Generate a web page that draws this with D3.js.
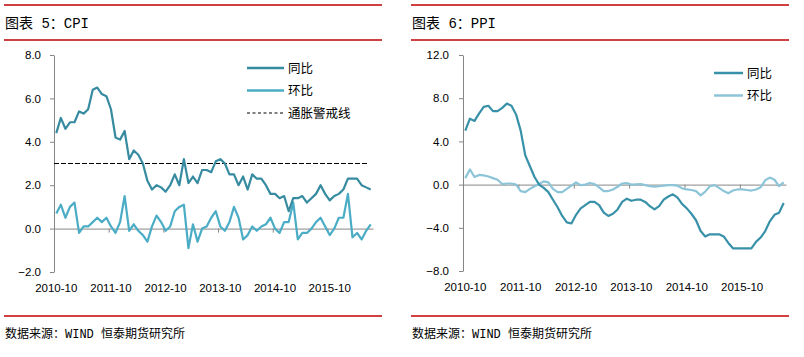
<!DOCTYPE html>
<html><head><meta charset="utf-8">
<script src="https://cdn.jsdelivr.net/npm/d3@7"></script>
<style>
body{margin:0;background:#fff;}
svg{display:block;}
</style></head><body>
<svg id="c" width="804" height="357"></svg>
<script>
// ---- data ----
const months = d3.timeMonth.range(new Date(2010,9,1), new Date(2016,7,1)).map(d3.timeFormat("%Y-%m"));
const tickLabels = ["2010-10","2011-10","2012-10","2013-10","2014-10","2015-10"];
const cpiYoY = [4.4,5.1,4.6,4.9,4.9,5.4,5.3,5.5,6.4,6.5,6.2,6.1,5.5,4.2,4.1,4.5,3.2,3.6,3.4,3.0,2.2,1.8,2.0,1.9,1.7,2.0,2.5,2.0,3.2,2.1,2.4,2.1,2.7,2.7,2.6,3.1,3.2,3.0,2.5,2.5,2.0,2.4,1.8,2.5,2.3,2.3,2.0,1.6,1.6,1.4,1.5,0.8,1.4,1.4,1.5,1.2,1.4,1.6,2.0,1.6,1.3,1.5,1.6,1.8,2.3,2.3,2.3,2.0,1.9,1.8];
const cpiMoM = [0.7,1.1,0.5,1.0,1.2,-0.2,0.1,0.1,0.3,0.5,0.3,0.5,0.1,-0.2,0.3,1.5,-0.1,0.2,-0.1,-0.3,-0.6,0.1,0.6,0.3,-0.1,0.1,0.8,1.0,1.1,-0.9,0.2,-0.6,0.0,0.1,0.5,0.8,0.1,-0.1,0.3,1.0,0.5,-0.5,-0.3,0.1,-0.1,0.1,0.2,0.5,0.0,-0.2,0.3,0.3,1.2,-0.5,-0.2,-0.2,0.0,0.3,0.5,0.1,-0.3,0.0,0.5,0.5,1.6,-0.4,-0.2,-0.5,-0.1,0.2];
const cpiAlert = 3.0;
const ppiYoY = [5.0,6.1,5.9,6.6,7.2,7.3,6.8,6.8,7.1,7.5,7.3,6.5,5.0,2.7,1.7,0.7,0.0,-0.3,-0.7,-1.4,-2.1,-2.9,-3.5,-3.6,-2.8,-2.2,-1.9,-1.6,-1.6,-1.9,-2.6,-2.9,-2.7,-2.3,-1.6,-1.3,-1.5,-1.4,-1.4,-1.6,-2.0,-2.3,-2.0,-1.4,-1.1,-0.9,-1.2,-1.8,-2.2,-2.7,-3.3,-4.3,-4.8,-4.6,-4.6,-4.6,-4.8,-5.4,-5.9,-5.9,-5.9,-5.9,-5.9,-5.3,-4.9,-4.3,-3.4,-2.8,-2.6,-1.7];
const ppiMoM = [0.6,1.4,0.7,0.9,0.85,0.75,0.6,0.45,0.05,0.1,0.1,0.0,-0.6,-0.7,-0.4,-0.15,0.05,0.3,0.2,-0.4,-0.7,-0.7,-0.4,-0.1,0.2,-0.05,0.0,0.15,0.05,-0.25,-0.6,-0.6,-0.45,-0.2,0.1,0.15,0.0,0.03,0.05,-0.05,-0.15,-0.2,-0.15,-0.1,-0.05,-0.05,-0.1,-0.35,-0.45,-0.5,-0.6,-1.0,-0.65,-0.15,-0.05,-0.3,-0.6,-0.8,-0.55,-0.45,-0.45,-0.5,-0.55,-0.45,-0.25,0.4,0.65,0.45,-0.15,0.2];
const cpiTicks = [-2,0,2,4,6,8];
const ppiTicks = [-8,-4,0,4,8,12];

const svg = d3.select("#c");
const RED = "#C00000";
const CJK = "'Liberation Mono','Noto Sans CJK SC',sans-serif";
const NUM = "'Liberation Sans',Arial,sans-serif";

function panel(o){
  const g = svg.append("g");
  // frame lines
  [5,40,316].forEach(y=>g.append("line").attr("x1",o.fx0).attr("x2",o.fx1).attr("y1",y).attr("y2",y)
     .attr("stroke",RED).attr("stroke-width",1.3));
  g.append("text").attr("x",o.fx0+1).attr("y",28).attr("font-family",CJK).attr("font-size",14).text(o.title);
  g.append("text").attr("x",o.fx0+1).attr("y",338).attr("font-family",CJK).attr("font-size",12).text("数据来源：WIND 恒泰期货研究所");

  const band = d3.scaleBand().domain(d3.range(months.length)).range([o.x0,o.x1]).padding(0);
  const cx = i => band(i)+band.bandwidth()/2;
  const y = d3.scaleLinear().domain(o.yDom).range([o.yBot,o.yTop]);

  // y axis
  const ya = g.append("g").attr("transform",`translate(${o.x0},0)`)
    .call(d3.axisLeft(y).tickValues(o.yTicks).tickFormat(d3.format(".1f")).tickSize(4).tickSizeOuter(0).tickPadding(o.yPad));
  ya.select(".domain").attr("stroke","#868686");
  ya.selectAll(".tick line").attr("stroke","#868686");
  ya.selectAll("text").attr("font-family",NUM).attr("font-size",11.5).attr("fill","#000");

  // zero axis with ticks at band boundaries
  const bl = d3.scaleLinear().domain([0,months.length]).range([o.x0,o.x1]);
  const xa = g.append("g").attr("transform",`translate(0,${y(0)})`)
    .call(d3.axisBottom(bl).tickValues([12,24,36,48,60]).tickFormat("").tickSize(4).tickSizeOuter(0));
  xa.select(".domain").attr("stroke","#868686");
  xa.selectAll(".tick line").attr("stroke","#868686");

  // category labels
  const idx = tickLabels.map(t=>months.indexOf(t));
  const la = g.append("g").attr("transform",`translate(0,${o.yBot+20})`)
    .call(d3.axisBottom(band).tickValues(idx).tickFormat(i=>months[i]).tickSize(0).tickPadding(0));
  la.select(".domain").remove();
  la.selectAll("text").attr("font-family",NUM).attr("font-size",11.5).attr("fill","#000").attr("dy","0");

  const line = d3.line().x((d,i)=>cx(i)).y(d=>y(d));
  if(o.alert!==undefined){
    g.append("line").attr("x1",o.x0).attr("x2",cx(months.length-1)-2).attr("y1",y(o.alert)).attr("y2",y(o.alert))
      .attr("stroke","#000").attr("stroke-width",1).attr("stroke-dasharray","5,2");
  }
  g.append("path").datum(o.s2).attr("d",line).attr("fill","none").attr("stroke",o.c2).attr("stroke-width",2.2).attr("stroke-linejoin","round");
  g.append("path").datum(o.s1).attr("d",line).attr("fill","none").attr("stroke",o.c1).attr("stroke-width",2.2).attr("stroke-linejoin","round");

  // legend
  o.legend.forEach((L,k)=>{
    const ly = o.ly + k*o.lstep;
    g.append("line").attr("x1",o.lx).attr("x2",o.lx+o.lw).attr("y1",ly).attr("y2",ly)
      .attr("stroke",L.c).attr("stroke-width",L.dash?1:2.5).attr("stroke-dasharray",L.dash?"3,2.5":null);
    g.append("text").attr("x",o.lx+o.lw+4).attr("y",ly+4.5).attr("font-family",CJK).attr("font-size",12.5).text(L.t);
  });
}

panel({fx0:4,fx1:382,title:"图表 5：CPI",x0:54,x1:373,yDom:[-2,8],yBot:272,yTop:55,yTicks:cpiTicks,yPad:9,
  s1:cpiYoY,s2:cpiMoM,c1:"#378BA0",c2:"#4BACC6",alert:cpiAlert,
  lx:247,lw:37,ly:68,lstep:22.5,
  legend:[{t:"同比",c:"#378BA0"},{t:"环比",c:"#4BACC6"},{t:"通胀警戒线",c:"#000",dash:true}]});
panel({fx0:411,fx1:789,title:"图表 6：PPI",x0:463,x1:786,yDom:[-8,12],yBot:271,yTop:55,yTicks:ppiTicks,yPad:10,
  s1:ppiYoY,s2:ppiMoM,c1:"#3891A8",c2:"#8CC4D8",
  lx:714,lw:29,ly:73,lstep:22.5,
  legend:[{t:"同比",c:"#3891A8"},{t:"环比",c:"#8CC4D8"}]});
</script>
</body></html>
